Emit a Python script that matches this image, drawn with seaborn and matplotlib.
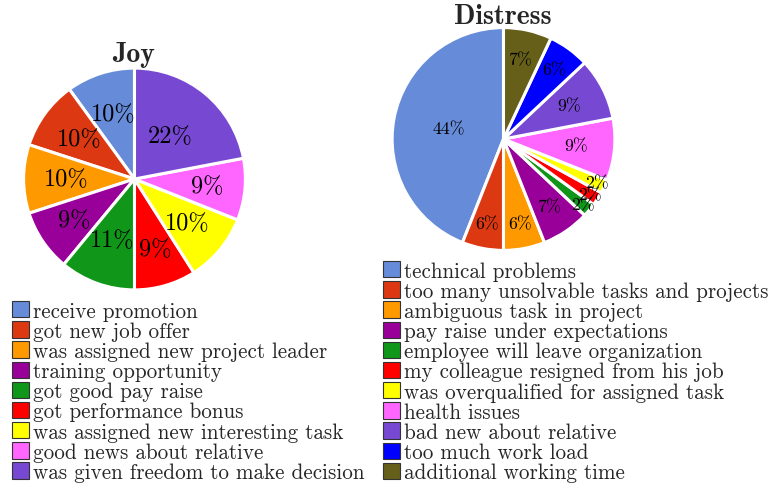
import numpy as np
import matplotlib
matplotlib.use("Agg")
import matplotlib.pyplot as plt
import seaborn as sns
from matplotlib.patches import Patch

# ---- data ----
joy_labels = ["receive promotion", "got new job offer", "was assigned new project leader",
              "training opportunity", "got good pay raise", "got performance bonus",
              "was assigned new interesting task", "good news about relative",
              "was given freedom to make decision"]
joy_values = [10, 10, 10, 9, 11, 9, 10, 9, 22]

distress_labels = ["technical problems", "too many unsolvable tasks and projects",
                   "ambiguous task in project", "pay raise under expectations",
                   "employee will leave organization", "my colleague resigned from his job",
                   "was overqualified for assigned task", "health issues",
                   "bad new about relative", "too much work load", "additional working time"]
distress_values = [44, 6, 6, 7, 2, 2, 2, 9, 9, 6, 7]

joy_colors = ["#668CD9", "#DC3912", "#FF9900", "#990099", "#109618", "#FF0000",
              "#FFFF00", "#FF66FF", "#7749D2"]
distress_colors = ["#668CD9", "#DC3912", "#FF9900", "#990099", "#109618", "#FF0000",
                   "#FFFF00", "#FF66FF", "#7749D2", "#0000FF", "#665F19"]

sns.set_theme(style="white")
plt.rcParams["font.family"] = ["cmr10", "DejaVu Serif"]
plt.rcParams["mathtext.fontset"] = "cm"
plt.rcParams["axes.unicode_minus"] = False

W, H = 771, 485
fig = plt.figure(figsize=(W / 100, H / 100), dpi=100)


def pie_axes(cx, cy, r):
    return fig.add_axes([(cx - r) / W, 1 - (cy + r) / H, 2 * r / W, 2 * r / H])


def draw_pie(ax, values, colors, fs):
    wedges, _ = ax.pie(values, colors=colors, startangle=90, counterclock=True,
                       wedgeprops=dict(edgecolor="white", linewidth=2.2))
    total = float(sum(values))
    for w, v in zip(wedges, values):
        p = 100 * v / total
        d = max(0.5, 1.0 - 0.038 * p)
        ang = np.deg2rad((w.theta1 + w.theta2) / 2)
        ax.text(d * np.cos(ang), d * np.sin(ang), f"{p:.0f}%", ha="center", va="center",
                fontsize=fs, color="black")
    ax.set_xlim(-1.01, 1.01)
    ax.set_ylim(-1.01, 1.01)
    ax.set_aspect("equal")
    ax.axis("off")
    return wedges


ax1 = pie_axes(134.5, 180, 112)
draw_pie(ax1, joy_values, joy_colors, 17.5)
ax2 = pie_axes(503.5, 140, 112.5)
draw_pie(ax2, distress_values, distress_colors, 12.8)

fig.text(134 / W, 1 - 62 / H, "Joy", ha="center", va="baseline", fontsize=20,
         family="cmb10")
fig.text(503 / W, 1 - 24 / H, "Distress", ha="center", va="baseline", fontsize=20,
         family="cmb10")


def legend(labels, colors, x, y):
    handles = [Patch(facecolor=c, edgecolor="#333333", linewidth=0.8) for c in colors]
    fig.legend(handles, labels, loc="upper left", bbox_to_anchor=(x / W, 1 - y / H),
               frameon=False, fontsize=15.2, borderpad=0, borderaxespad=0,
               handlelength=0.82, handleheight=0.82, handletextpad=0.18,
               labelspacing=0.03)


legend(joy_labels, joy_colors, 12, 302)
legend(distress_labels, distress_colors, 383, 262)

fig.savefig("out.png", dpi=100)
